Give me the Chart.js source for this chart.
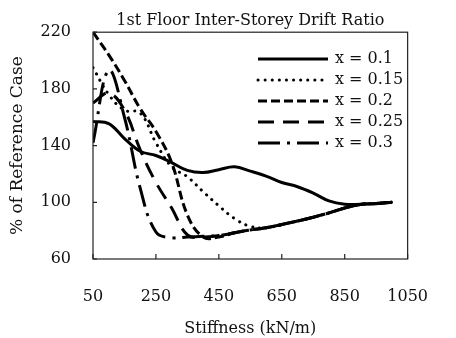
<!DOCTYPE html>
<html>
<head>
<meta charset="utf-8">
<script src="https://cdn.jsdelivr.net/npm/chart.js@4"></script>
<style>
  html, body { margin: 0; padding: 0; background: #fff; }
  #wrap { width: 456px; height: 338px; }
</style>
</head>
<body>
<div id="wrap"><canvas id="driftChart"></canvas></div>
<script>
// 1st floor inter-storey drift ratio vs. stiffness
const stiffness = [50, 100, 150, 200, 250, 300, 350, 400, 450, 500, 550, 600, 650, 700, 750, 800, 850, 900, 950, 1000];
const xTicks = [50, 250, 450, 650, 850, 1050];
const yTicks = [60, 100, 140, 180, 220];
const seriesLabels = ["x = 0.1", "x = 0.15", "x = 0.2", "x = 0.25", "x = 0.3"];

const drift01  = [157, 155.5, 145, 136, 133, 128, 122.5, 121, 123, 125, 122, 118.5, 114, 111, 106.5, 101, 98.7, 98.6, 99, 100];
const drift015 = [195, 176, 165, 163, 142, 125, 118, 107.5, 97.5, 88.5, 83, 82, 84.3, 86.8, 89.5, 92.5, 96, 98.5, 99.2, 100];
const drift02  = [220, 204, 186, 166, 150, 128, 91, 75.5, 75.5, 78.5, 80.5, 82, 84.3, 86.8, 89.5, 92.5, 96, 98.5, 99.2, 100];
const drift025 = [170, 177, 165, 137, 114, 96, 77, 75.5, 76.5, 78.5, 80.5, 82, 84.3, 86.8, 89.5, 92.5, 96, 98.5, 99.2, 100];
const drift03  = [142, 193, 160, 110, 79, 75, 75.5, 76, 76.5, 78.5, 80.5, 82, 84.3, 86.8, 89.5, 92.5, 96, 98.5, 99.2, 100];

const seriesValues = [drift01, drift015, drift02, drift025, drift03];
const dashes = [[], [0.1, 7], [9, 4], [16, 9], [22, 7, 3, 7]];
const caps = ["butt", "round", "butt", "butt", "butt"];

Chart.defaults.font.family = '"DejaVu Serif", serif';
Chart.defaults.color = "#111";

const pair = vals => vals.map((v, i) => ({ x: stiffness[i], y: v }));

// legend drawn inside the plot, top right, with real line styles
const insideLegend = {
  id: "insideLegend",
  afterDatasetsDraw(chart) {
    const ctx = chart.ctx;
    ctx.save();
    ctx.font = '16px "DejaVu Serif"';
    ctx.fillStyle = "#111";
    ctx.textBaseline = "middle";
    chart.data.datasets.forEach((ds, i) => {
      const y = 59 + i * 21;
      ctx.beginPath();
      ctx.lineWidth = 3;
      ctx.strokeStyle = "#000";
      ctx.lineCap = ds.borderCapStyle;
      ctx.setLineDash(ds.borderDash);
      ctx.moveTo(258, y);
      ctx.lineTo(328, y);
      ctx.stroke();
      ctx.setLineDash([]);
      ctx.fillText(ds.label, 335, y);
    });
    ctx.restore();
  }
};

// box round the plot and short inward ticks
const frame = {
  id: "frame",
  afterDraw(chart) {
    const { ctx, chartArea: a, scales } = chart;
    ctx.save();
    ctx.strokeStyle = "#222";
    ctx.lineWidth = 1.2;
    ctx.strokeRect(a.left, a.top, a.right - a.left, a.bottom - a.top);
    ctx.beginPath();
    yTicks.forEach(v => {
      const y = scales.y.getPixelForValue(v);
      ctx.moveTo(a.left, y);
      ctx.lineTo(a.left + 4, y);
    });
    xTicks.forEach(v => {
      const x = scales.x.getPixelForValue(v);
      ctx.moveTo(x, a.bottom);
      ctx.lineTo(x, a.bottom - 5);
    });
    ctx.stroke();
    ctx.restore();
  }
};

new Chart(document.getElementById("driftChart"), {
  type: "line",
  data: {
    datasets: seriesLabels.map((label, i) => ({
      label: label,
      data: pair(seriesValues[i]),
      borderColor: "#000",
      borderWidth: 3,
      borderDash: dashes[i],
      borderCapStyle: caps[i],
      pointRadius: 0,
      fill: false,
      tension: 0.4
    }))
  },
  options: {
    responsive: true,
    maintainAspectRatio: false,
    animation: false,
    layout: {
      padding: { top: 0, right: 24, bottom: 0, left: 0 }
    },
    scales: {
      x: {
        type: "linear",
        min: 50,
        max: 1050,
        afterBuildTicks: s => { s.ticks = xTicks.map(v => ({ value: v })); },
        afterFit: s => { s.height = 79; },
        grid: { display: false, drawTicks: false },
        border: { display: false },
        ticks: {
          font: { size: 16 },
          padding: 28,
          maxRotation: 0,
          autoSkip: false,
          callback: v => String(v)
        },
        title: {
          display: true,
          text: "Stiffness (kN/m)",
          font: { size: 16 },
          padding: { top: 0, bottom: 0 }
        }
      },
      y: {
        min: 60,
        max: 220,
        afterBuildTicks: s => { s.ticks = yTicks.map(v => ({ value: v })); },
        afterFit: s => { s.width = 93; },
        grid: { display: false, drawTicks: false },
        border: { display: false },
        ticks: {
          font: { size: 16 },
          padding: 22,
          callback: v => String(v)
        },
        title: {
          display: true,
          text: "% of Reference Case",
          font: { size: 17 },
          padding: { top: 7, bottom: 0 }
        }
      }
    },
    plugins: {
      legend: { display: false },
      tooltip: { enabled: false },
      title: {
        display: true,
        text: "1st Floor Inter-Storey Drift Ratio",
        fullSize: false,
        font: { size: 16, weight: "normal" },
        color: "#111",
        padding: { top: 11, bottom: 2 }
      }
    }
  },
  plugins: [insideLegend, frame]
});
</script>
</body>
</html>
